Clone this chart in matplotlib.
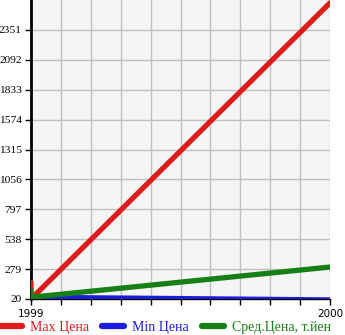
import matplotlib.pyplot as plt
import numpy as np

# данные: годы и цены
years_max = [1999, 1999, 2000]
price_max = [165, 20, 2585]
years_min = [1999, 2000]
price_min = [35, 12]
years_avg = [1999, 1999, 2000]
price_avg = [95, 35, 297]

yticks = [20, 279, 538, 797, 1056, 1315, 1574, 1833, 2092, 2351]
labels = ['Max Цена', 'Min Цена', 'Сред.Цена, т.йен']
colors = ['#dd1c1c', '#1c1cdd', '#168016']

fig = plt.figure(figsize=(3.45, 3.35), dpi=100)
ax = fig.add_axes([31/345, 36/335, 299/345, 299/335])
ax.set_facecolor('#f5f5f5')

ax.plot(years_max, price_max, color=colors[0], lw=3.8, solid_capstyle='round', label=labels[0], zorder=3)
ax.plot(years_min, price_min, color=colors[1], lw=3.8, solid_capstyle='round', label=labels[1], zorder=3)
ax.plot(years_avg, price_avg, color=colors[2], lw=3.8, solid_capstyle='round', label=labels[2], zorder=4)

ax.set_xlim(1999, 2000)
ax.set_ylim(20, 2610)
ax.set_yticks(yticks)
ax.set_yticklabels([str(v) for v in yticks], family='Liberation Serif', fontsize=8.2)
ax.set_xticks(np.linspace(1999, 2000, 11))
ax.set_xticklabels(['1999'] + [''] * 9 + ['2000'], family='DejaVu Sans', fontsize=7.5)
ax.grid(True, color='#c0c0c0', lw=1)
ax.set_axisbelow(True)
ax.tick_params(axis='y', length=4, width=1, pad=2.5)
ax.tick_params(axis='x', length=4, width=1, pad=3)
for s in ['top', 'right']:
    ax.spines[s].set_visible(False)
ax.spines['left'].set_linewidth(2)
ax.spines['bottom'].set_linewidth(1)

leg = fig.legend(loc='center left', bbox_to_anchor=(0.0, 8/335), ncol=3, frameon=False,
                 handlelength=1.6, handletextpad=0.55, columnspacing=0.95,
                 borderpad=0, borderaxespad=0,
                 prop={'family': 'Liberation Serif', 'size': 10})
for t, c in zip(leg.get_texts(), colors):
    t.set_color(c)
for h in leg.legend_handles:
    h.set_linewidth(4.5)
    h.set_solid_capstyle('round')

fig.savefig('out.png', dpi=100)
